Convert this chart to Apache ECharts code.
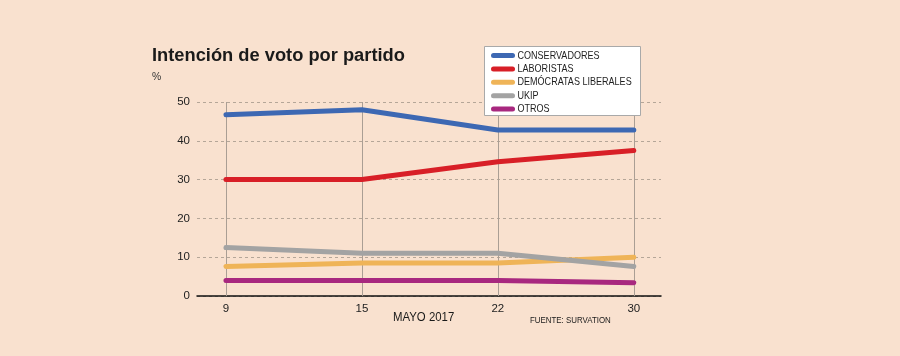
<!DOCTYPE html>
<html>
<head>
<meta charset="utf-8">
<script src="https://cdn.jsdelivr.net/npm/echarts@6/dist/echarts.min.js"></script>
<style>
html,body{margin:0;padding:0;background:#f9e1cf;}
#chart{width:900px;height:356px;}
</style>
</head>
<body>
<div id="chart"></div>
<script>
var categories = ['9', '15', '22', '30'];
var seriesNames = ['CONSERVADORES', 'LABORISTAS', 'DEMÓCRATAS LIBERALES', 'UKIP', 'OTROS'];
var conservadores = [46.7, 48, 42.8, 42.8];
var laboristas = [30, 30, 34.6, 37.5];
var democratas = [7.6, 8.5, 8.5, 10];
var ukip = [12.5, 11, 11, 7.6];
var otros = [4, 4, 4, 3.4];
var yTicks = [0, 10, 20, 30, 40, 50];
var titleText = 'Intención de voto por partido';
var unitText = '%';
var xAxisTitle = 'MAYO 2017';
var sourceText = 'FUENTE: SURVATION';

var colors = ['#3d68b3', '#d81f27', '#efb458', '#a3a3a3', '#a8287f'];
var FONT = '"Liberation Sans", Arial, sans-serif';
function pts(arr){ return arr.map(function(v,i){ return [i, v]; }); }
var values = [conservadores, laboristas, democratas, ukip, otros];
var series = values.map(function(arr, k){
  return {
    name: seriesNames[k], type: 'line', data: pts(arr), symbol: 'none',
    lineStyle: {width: 5, color: colors[k], cap: 'round', join: 'round'},
    itemStyle: {color: colors[k]}, z: 3
  };
});
series[0].markLine = {
  silent: true, symbol: 'none', label: {show: false},
  lineStyle: {color: '#aa9e94', width: 1, type: 'solid'},
  data: categories.map(function(c, i){ return {xAxis: i}; }),
  z: 1
};

function txt(x, y, text, size, weight, sx, color){
  return {type: 'text', x: x, y: y, scaleX: sx, z: 100,
    style: {text: text, font: weight + ' ' + size + 'px ' + FONT,
      fill: color || '#1a1a1a', textVerticalAlign: 'middle', textAlign: 'left'}};
}
var legendChildren = [{type: 'rect', z: 100, shape: {x: 0, y: 0, width: 156, height: 69},
  style: {fill: '#ffffff', stroke: '#a9a9a9', lineWidth: 1}}];
seriesNames.forEach(function(n, i){
  var cy = 9 + i * 13.4;
  legendChildren.push({type: 'line', z: 101, shape: {x1: 9, y1: cy, x2: 28, y2: cy},
    style: {stroke: colors[i], lineWidth: 5, lineCap: 'round'}});
  legendChildren.push({type: 'text', z: 101, x: 33, y: cy, scaleX: 0.8,
    style: {text: n, font: 'normal 11.3px ' + FONT, fill: '#1e1e1e', textVerticalAlign: 'middle'}});
});

var chart = echarts.init(document.getElementById('chart'));
chart.setOption({
  backgroundColor: '#f9e1cf',
  animation: false,
  graphic: [
    txt(152, 56, titleText, 18.3, 'bold', 1, '#1a1a1a'),
    txt(152, 77, unitText, 11.5, 'normal', 0.9, '#333'),
    txt(393, 318, xAxisTitle, 12.4, 'normal', 0.92, '#1a1a1a'),
    txt(530, 320, sourceText, 9.2, 'normal', 0.86, '#1a1a1a'),
    {type: 'group', x: 484.5, y: 46.5, z: 100, children: legendChildren}
  ],
  grid: {left: 197, right: 239, top: 102, bottom: 60},
  xAxis: {
    type: 'value', min: -0.213, max: 3.2,
    axisLine: {show: true, lineStyle: {color: '#111', width: 1.5}},
    axisTick: {show: false},
    splitLine: {show: false},
    axisLabel: {
      customValues: [0, 1, 2, 3],
      formatter: function(v){ return categories[Math.round(v)]; },
      fontFamily: FONT, fontSize: 11.5, color: '#222', margin: 7
    }
  },
  yAxis: {
    type: 'value', min: 0, max: 50, interval: 10,
    axisLine: {show: false}, axisTick: {show: false},
    splitLine: {show: true, lineStyle: {color: '#b5a698', type: [3, 3], width: 1}},
    axisLabel: {fontFamily: FONT, fontSize: 11.5, color: '#222', margin: 7,
      formatter: function(v){ return yTicks.indexOf(v) >= 0 ? String(v) : ''; }}
  },
  series: series
});
</script>
</body>
</html>
